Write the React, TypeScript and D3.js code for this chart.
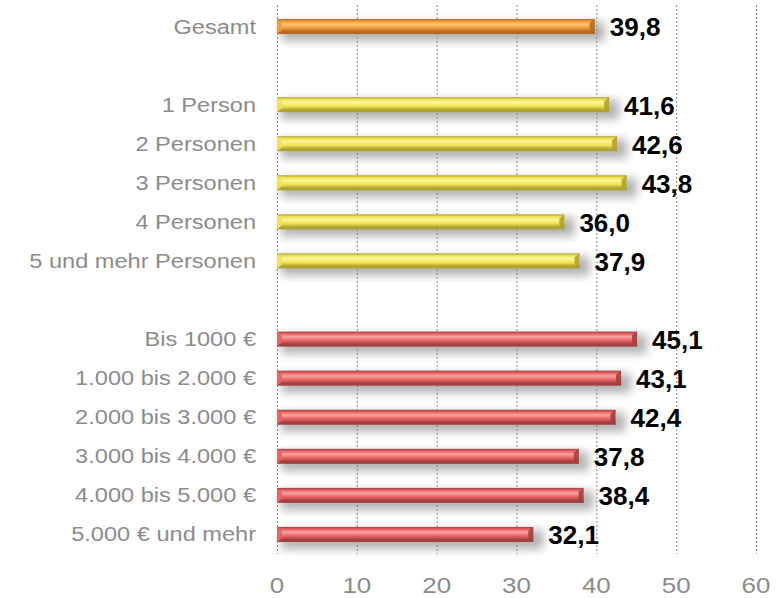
import * as d3 from "d3";
import React, { useEffect, useRef } from "react";

// rows top to bottom; empty strings are spacer rows
const categories = [
  "Gesamt",
  "",
  "1 Person",
  "2 Personen",
  "3 Personen",
  "4 Personen",
  "5 und mehr Personen",
  "",
  "Bis 1000 €",
  "1.000 bis 2.000 €",
  "2.000 bis 3.000 €",
  "3.000 bis 4.000 €",
  "4.000 bis 5.000 €",
  "5.000 € und mehr",
];
const values = [39.8, null, 41.6, 42.6, 43.8, 36.0, 37.9, null, 45.1, 43.1, 42.4, 37.8, 38.4, 32.1];
const groups = ["total", null, "hh", "hh", "hh", "hh", "hh", null, "inc", "inc", "inc", "inc", "inc", "inc"];
const ticks = [0, 10, 20, 30, 40, 50, 60];

const palette = {
  total: { dark: "#b06a22", base: "#f39a38", light: "#fcc670" },
  hh: { dark: "#b0a230", base: "#f1e352", light: "#fcf69a" },
  inc: { dark: "#a04040", base: "#eb6262", light: "#f9a3a3" },
};

export default function App() {
  const svgRef = useRef(null);
  const width = 782;
  const height = 598;

  useEffect(() => {
    const svg = d3.select(svgRef.current);
    svg.selectAll("*").remove();

    const x = d3.scaleLinear().domain([0, 60]).range([277, 756]);
    const y = d3
      .scaleBand()
      .domain(categories.map((c, i) => String(i)))
      .range([7, 554])
      .paddingInner(0.616)
      .paddingOuter(0.308);

    const defs = svg.append("defs");
    defs
      .append("filter")
      .attr("id", "shadow")
      .attr("x", "-10%")
      .attr("y", "-200%")
      .attr("width", "120%")
      .attr("height", "500%")
      .append("feGaussianBlur")
      .attr("stdDeviation", 5);

    Object.entries(palette).forEach(([key, c]) => {
      const g = defs
        .append("linearGradient")
        .attr("id", "grad-" + key)
        .attr("x1", 0)
        .attr("y1", 0)
        .attr("x2", 0)
        .attr("y2", 1);
      g.append("stop").attr("offset", "0%").attr("stop-color", c.dark);
      g.append("stop").attr("offset", "15%").attr("stop-color", c.base);
      g.append("stop").attr("offset", "35%").attr("stop-color", c.light);
      g.append("stop").attr("offset", "60%").attr("stop-color", c.base);
      g.append("stop").attr("offset", "85%").attr("stop-color", c.dark);
      g.append("stop").attr("offset", "100%").attr("stop-color", c.dark);
    });

    const rows = categories
      .map((c, i) => ({ key: String(i), label: c, value: values[i], group: groups[i] }))
      .filter((d) => d.value !== null);

    // shadows
    svg
      .append("g")
      .selectAll("rect")
      .data(rows)
      .enter()
      .append("rect")
      .attr("x", x(0) + 4)
      .attr("y", (d) => y(d.key) + 3)
      .attr("width", (d) => x(d.value) - x(0) + 6)
      .attr("height", y.bandwidth() + 4)
      .attr("fill", "#000")
      .attr("opacity", 0.3)
      .attr("filter", "url(#shadow)");

    // grid
    svg
      .append("g")
      .selectAll("line")
      .data(ticks)
      .enter()
      .append("line")
      .attr("x1", (d) => x(d) + 0.5)
      .attr("x2", (d) => x(d) + 0.5)
      .attr("y1", 5)
      .attr("y2", 554)
      .attr("stroke", "#8a8a8a")
      .attr("stroke-width", 1)
      .attr("stroke-dasharray", "2,2");

    // bars
    const bars = svg.append("g").selectAll("g").data(rows).enter().append("g");
    bars
      .append("rect")
      .attr("x", x(0))
      .attr("y", (d) => y(d.key))
      .attr("width", (d) => x(d.value) - x(0))
      .attr("height", y.bandwidth())
      .attr("fill", (d) => `url(#grad-${d.group})`);
    // bevelled ends
    bars
      .append("polygon")
      .attr("points", (d) => {
        const x1 = x(d.value);
        const y0 = y(d.key);
        const y1 = y0 + y.bandwidth();
        return [
          [x1 - 5, y0 + 4],
          [x1, y0],
          [x1, y1],
          [x1 - 5, y1 - 4],
        ].join(" ");
      })
      .attr("fill", (d) => palette[d.group].dark)
      .attr("opacity", 0.9);
    bars
      .append("polygon")
      .attr("points", (d) => {
        const x0 = x(0);
        const y0 = y(d.key);
        const y1 = y0 + y.bandwidth();
        return [
          [x0, y0],
          [x0 + 5, y0 + 4],
          [x0 + 5, y1 - 4],
          [x0, y1],
        ].join(" ");
      })
      .attr("fill", (d) => palette[d.group].base)
      .attr("opacity", 0.9);

    // value labels
    svg
      .append("g")
      .selectAll("text")
      .data(rows)
      .enter()
      .append("text")
      .attr("x", (d) => x(d.value) + 15)
      .attr("y", (d) => y(d.key) + y.bandwidth() / 2)
      .attr("dy", "0.38em")
      .attr("font-family", "Liberation Sans, Arial, sans-serif")
      .attr("font-weight", "bold")
      .attr("font-size", 26)
      .attr("fill", "#000")
      .text((d) => d3.format(".1f")(d.value).replace(".", ","));

    // category labels (slightly wide, like the original)
    svg
      .append("g")
      .selectAll("text")
      .data(rows)
      .enter()
      .append("text")
      .attr(
        "transform",
        (d) => `translate(256,${y(d.key) + y.bandwidth() / 2}) scale(1.21,1)`
      )
      .attr("dy", "0.36em")
      .attr("text-anchor", "end")
      .attr("font-family", "Liberation Sans, Arial, sans-serif")
      .attr("font-size", 19.5)
      .attr("fill", "#8c8c8c")
      .text((d) => d.label);

    // x axis ticks
    svg
      .append("g")
      .selectAll("text")
      .data(ticks)
      .enter()
      .append("text")
      .attr("transform", (d) => `translate(${x(d)},585) scale(1.18,1)`)
      .attr("dy", "0.36em")
      .attr("text-anchor", "middle")
      .attr("font-family", "Liberation Sans, Arial, sans-serif")
      .attr("font-size", 22)
      .attr("fill", "#8c8c8c")
      .text((d) => d);
  });

  return (
    <svg
      width={width}
      height={height}
      ref={svgRef}
      style={{ position: "absolute", left: 0, top: 0 }}
    ></svg>
  );
}
